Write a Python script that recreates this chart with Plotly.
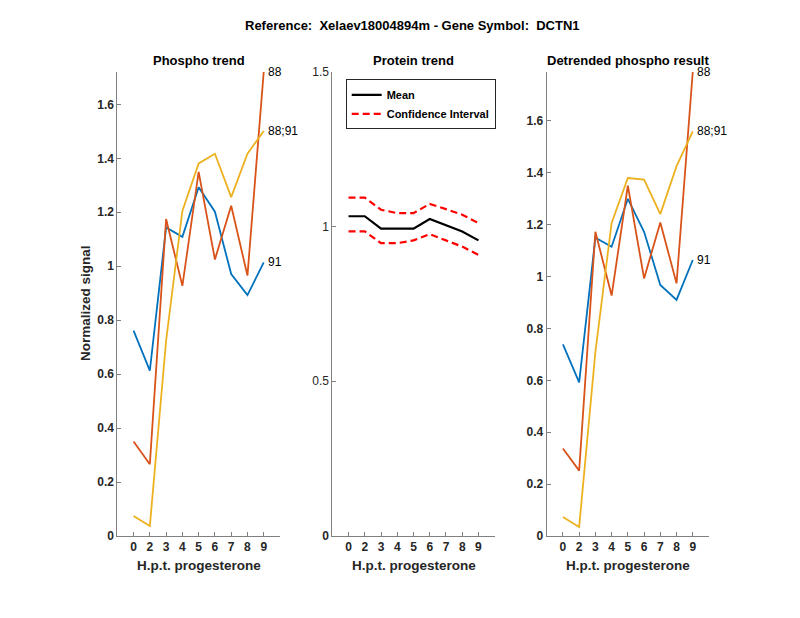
import plotly.graph_objects as go

# ---------------- data ----------------
hpt_labels = ["0", "2", "3", "4", "5", "6", "7", "8", "9"]

site_labels = ["91", "88", "88;91"]
site_colors = ["#0072BD", "#D95319", "#EDB120"]

phospho_91 = [0.761, 0.613, 1.144, 1.109, 1.293, 1.202, 0.971, 0.893, 1.014]
phospho_88 = [0.350, 0.266, 1.175, 0.927, 1.350, 1.025, 1.224, 0.965, 1.721]
phospho_88_91 = [0.074, 0.037, 0.724, 1.205, 1.381, 1.417, 1.256, 1.417, 1.501]

protein_mean = [1.033, 1.033, 0.993, 0.993, 0.993, 1.024, 1.004, 0.984, 0.955]
protein_ci_upper = [1.093, 1.093, 1.054, 1.043, 1.043, 1.073, 1.056, 1.038, 1.011]
protein_ci_lower = [0.984, 0.984, 0.946, 0.946, 0.955, 0.975, 0.955, 0.935, 0.908]

detrended_91 = [0.739, 0.592, 1.150, 1.115, 1.300, 1.173, 0.968, 0.910, 1.064]
detrended_88 = [0.337, 0.252, 1.173, 0.927, 1.351, 0.993, 1.209, 0.974, 1.790]
detrended_88_91 = [0.073, 0.035, 0.710, 1.207, 1.380, 1.374, 1.241, 1.426, 1.560]

main_title = "Reference:\u00a0 Xelaev18004894m - Gene Symbol:\u00a0 DCTN1"
panel_titles = ["Phospho trend", "Protein trend", "Detrended phospho result"]
x_title = "H.p.t. progesterone"
y_title = "Normalized signal"

# ---------------- layout geometry ----------------
W, H = 800, 618
x_domains = [(117.3 / W, 280 / W), (332.3 / W, 494.7 / W), (546.7 / W, 709 / W)]
y_domain = ((H - 536) / H, (H - 71.7) / H)

positions = list(range(1, len(hpt_labels) + 1))
FONT = "Liberation Sans, Arial, Helvetica, sans-serif"
TICK_COLOR = "#262626"
AXIS_COLOR = "#808080"

fig = go.Figure()

phospho_sets = [phospho_91, phospho_88, phospho_88_91]
detrended_sets = [detrended_91, detrended_88, detrended_88_91]

for vals, col, lab in zip(phospho_sets, site_colors, site_labels):
    fig.add_trace(go.Scatter(x=positions, y=vals, mode="lines", xaxis="x", yaxis="y",
                             line=dict(color=col, width=1.8), showlegend=False, name=lab))
for vals, col, lab in zip(detrended_sets, site_colors, site_labels):
    fig.add_trace(go.Scatter(x=positions, y=vals, mode="lines", xaxis="x3", yaxis="y3",
                             line=dict(color=col, width=1.8), showlegend=False, name=lab))

fig.add_trace(go.Scatter(x=positions, y=protein_mean, mode="lines", xaxis="x2", yaxis="y2",
                         line=dict(color="black", width=2.2), name="Mean", showlegend=True))
fig.add_trace(go.Scatter(x=positions, y=protein_ci_upper, mode="lines", xaxis="x2", yaxis="y2",
                         line=dict(color="#FF0000", width=2.2, dash="7px,4px"),
                         name="Confidence Interval", showlegend=True))
fig.add_trace(go.Scatter(x=positions, y=protein_ci_lower, mode="lines", xaxis="x2", yaxis="y2",
                         line=dict(color="#FF0000", width=2.2, dash="7px,4px"),
                         name="Confidence Interval", showlegend=False))

xaxis_common = dict(range=[0, len(hpt_labels) + 1], tickvals=positions,
                    ticktext=["<b>%s</b>" % t for t in hpt_labels],
                    ticks="inside", ticklen=4, tickcolor=AXIS_COLOR,
                    showline=True, linecolor=AXIS_COLOR, linewidth=1,
                    showgrid=False, zeroline=False, fixedrange=True, automargin=False,
                    tickfont=dict(size=12, color=TICK_COLOR, family=FONT))
yaxis_common = dict(ticks="inside", ticklen=4, tickcolor=AXIS_COLOR,
                    showline=True, linecolor=AXIS_COLOR, linewidth=1,
                    showgrid=False, zeroline=False, fixedrange=True, automargin=False,
                    tickfont=dict(size=12, color=TICK_COLOR, family=FONT))

left_max = max(max(s) for s in phospho_sets)
right_max = max(max(s) for s in detrended_sets)
left_ticks = [round(0.2 * i, 1) for i in range(int(left_max / 0.2) + 1)]
right_ticks = [round(0.2 * i, 1) for i in range(int(right_max / 0.2) + 1)]
mid_ticks = [0, 0.5, 1, 1.5]


def fmt(v):
    return "%g" % v


layout = dict(
    template="none",
    width=W, height=H, autosize=False,
    margin=dict(l=0, r=0, t=0, b=0, pad=0),
    paper_bgcolor="white", plot_bgcolor="white",
    font=dict(family=FONT, color="black"),
    xaxis=dict(domain=x_domains[0], anchor="y", **xaxis_common),
    xaxis2=dict(domain=x_domains[1], anchor="y2", **xaxis_common),
    xaxis3=dict(domain=x_domains[2], anchor="y3", **xaxis_common),
    yaxis=dict(domain=y_domain, anchor="x", range=[0, left_max],
               tickvals=left_ticks, ticktext=["<b>%s</b>" % fmt(v) for v in left_ticks],
               **yaxis_common),
    yaxis2=dict(domain=y_domain, anchor="x2", range=[0, 1.5],
                tickvals=mid_ticks,
                ticktext=["<b>0</b>", "0.5", "1", "1.5"],
                **yaxis_common),
    yaxis3=dict(domain=y_domain, anchor="x3", range=[0, right_max],
                tickvals=right_ticks, ticktext=["<b>%s</b>" % fmt(v) for v in right_ticks],
                **yaxis_common),
    legend=dict(x=345.7 / W, y=1 - 79.3 / H, xanchor="left", yanchor="top",
                bgcolor="white", bordercolor="#262626", borderwidth=1,
                font=dict(size=11, family=FONT, color="black", weight="bold"),
                tracegroupgap=0, itemwidth=30),
    showlegend=True,
)
fig.update_layout(**layout)

annotations = []
# main title
annotations.append(dict(text="<b>%s</b>" % main_title, x=412 / W, y=1 - 25 / H,
                        xref="paper", yref="paper", showarrow=False,
                        xanchor="center", yanchor="middle",
                        font=dict(size=13, color="black", family=FONT)))
# panel titles and x titles
for (d0, d1), t in zip(x_domains, panel_titles):
    annotations.append(dict(text="<b>%s</b>" % t, x=(d0 + d1) / 2, y=1 - 60.7 / H,
                            xref="paper", yref="paper", showarrow=False,
                            xanchor="center", yanchor="middle",
                            font=dict(size=13, color="black", family=FONT)))
    annotations.append(dict(text="<b>%s</b>" % x_title, x=(d0 + d1) / 2, y=1 - 565.7 / H,
                            xref="paper", yref="paper", showarrow=False,
                            xanchor="center", yanchor="middle",
                            font=dict(size=13.5, color=TICK_COLOR, family=FONT)))
# y title
annotations.append(dict(text="<b>%s</b>" % y_title, x=85 / W, y=1 - 303 / H,
                        xref="paper", yref="paper", showarrow=False, textangle=-90,
                        xanchor="center", yanchor="middle",
                        font=dict(size=13.5, color=TICK_COLOR, family=FONT)))
# end labels
for axes, sets in (("", phospho_sets), ("3", detrended_sets)):
    for vals, lab in zip(sets, site_labels):
        annotations.append(dict(text=lab, x=positions[-1], y=vals[-1],
                                xref="x" + axes, yref="y" + axes, showarrow=False,
                                xanchor="left", yanchor="middle", xshift=2,
                                font=dict(size=12, color="black", family=FONT)))
fig.update_layout(annotations=annotations)

fig.write_html("out.html",
               config={"responsive": False, "displayModeBar": False},
               post_script="document.body.style.margin='0';document.body.style.overflow='hidden';")
